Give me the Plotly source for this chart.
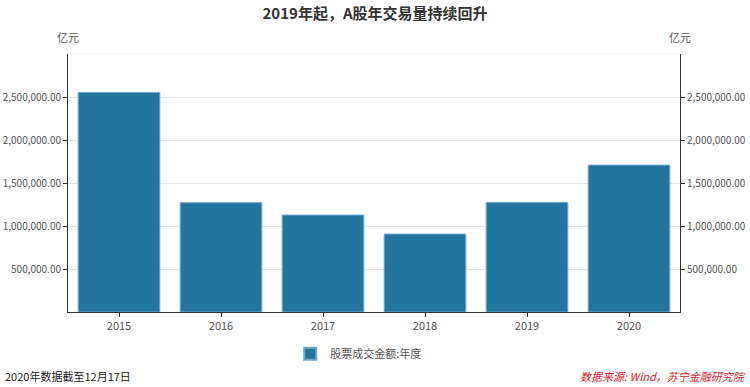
import plotly.graph_objects as go

years = ["2015", "2016", "2017", "2018", "2019", "2020"]
turnover = [2553000, 1271000, 1127000, 906000, 1274000, 1708000]
tick_vals = [500000, 1000000, 1500000, 2000000, 2500000]
tick_text = ["500,000.00", "1,000,000.00", "1,500,000.00", "2,000,000.00", "2,500,000.00"]
y_max = 3000000

FONT = "Microsoft YaHei, Noto Sans CJK SC, sans-serif"

fig = go.Figure()
fig.add_trace(go.Bar(
    x=years, y=turnover, name="股票成交金额:年度",
    marker=dict(color="#21759F", line=dict(color="#6FA8CC", width=1)),
))
fig.add_trace(go.Scatter(
    x=years, y=turnover, yaxis="y2", mode="markers",
    marker=dict(opacity=0), showlegend=False, hoverinfo="skip",
))

fig.update_layout(
    width=750, height=387,
    margin=dict(l=68, r=70, t=54, b=75),
    paper_bgcolor="white", plot_bgcolor="white",
    font=dict(family=FONT, color="#555", size=11),
    bargap=0.2,
    title=dict(text="<b>2019年起，A股年交易量持续回升</b>", x=0.5, xanchor="center",
               y=1 - 14 / 387, yanchor="middle",
               font=dict(size=15, color="#333", family=FONT)),
    xaxis=dict(type="category", showline=True, linecolor="#333", linewidth=1,
               ticks="outside", ticklen=4, tickcolor="#333", automargin=False,
               tickfont=dict(size=11, color="#555"), showgrid=False),
    yaxis=dict(range=[0, y_max], tickvals=tick_vals, ticktext=tick_text,
               showline=True, linecolor="#333", linewidth=1, automargin=False,
               ticks="outside", ticklen=4, tickcolor="#333",
               showgrid=True, gridcolor="#e6e6e6", gridwidth=1,
               zeroline=False, tickfont=dict(size=10, color="#555")),
    yaxis2=dict(range=[0, y_max], tickvals=tick_vals, ticktext=tick_text,
                overlaying="y", side="right", automargin=False,
                showline=True, linecolor="#333", linewidth=1,
                ticks="outside", ticklen=4, tickcolor="#333",
                showgrid=False, zeroline=False, tickfont=dict(size=10, color="#555")),
    legend=dict(orientation="h", x=0.475, xanchor="center", y=-0.162, yanchor="middle",
                font=dict(size=11, color="#555"), itemsizing="constant"),
    shapes=[dict(type="line", xref="paper", yref="y", x0=0, x1=1, y0=y_max, y1=y_max,
                 line=dict(color="#e6e6e6", width=1))],
    annotations=[
        dict(text="亿元", xref="paper", yref="paper", x=0, y=1.067, showarrow=False,
             xanchor="center", yanchor="middle", font=dict(size=11, color="#555")),
        dict(text="亿元", xref="paper", yref="paper", x=1, y=1.067, showarrow=False,
             xanchor="center", yanchor="middle", font=dict(size=11, color="#555")),
        dict(text="2020年数据截至12月17日", xref="paper", yref="paper", x=-0.106, y=-0.247,
             showarrow=False, xanchor="left", yanchor="middle",
             font=dict(size=11, color="#222")),
        dict(text="<i>数据来源: Wind，苏宁金融研究院</i>", xref="paper", yref="paper",
             x=1.111, y=-0.247, showarrow=False, xanchor="right", yanchor="middle",
             font=dict(size=11, color="#E0202A")),
    ],
)

fig.write_html("out.html")
